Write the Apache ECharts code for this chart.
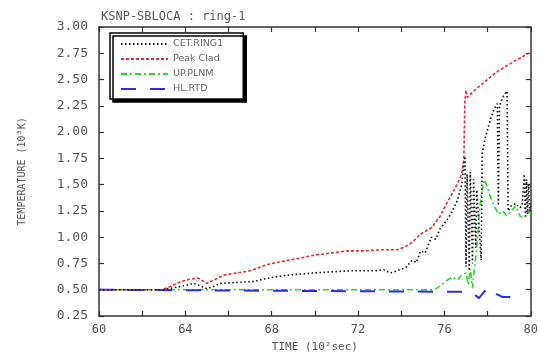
<!DOCTYPE html>
<html>
<head>
<meta charset="utf-8">
<script src="https://cdn.jsdelivr.net/npm/echarts@6/dist/echarts.min.js"></script>
<style>html,body{margin:0;padding:0;background:#fff;}#c{width:541px;height:358px;}</style>
</head>
<body>
<div id="c"></div>
<script>
// ---- data ----
const titleText = "KSNP-SBLOCA : ring-1";
const seriesNames = ["CET.RING1", "Peak Clad", "UP.PLNM", "HL.RTD"];
const xTickLabels = [60, 64, 68, 72, 76, 80];
const yTickLabels = ["0.25","0.50","0.75","1.00","1.25","1.50","1.75","2.00","2.25","2.50","2.75","3.00"];

const cetTime = [60,63.0,63.5,64.0,64.4,65.0,65.3,65.6,66.5,67.2,67.6,68.1,68.8,70.0,71.6,72.8,73.2,73.5,73.8,74.2,74.5,74.7,74.9,75.1,75.4,75.6,75.8,76.1,76.3,76.6,76.8,76.95,77.0,77.05,77.15,77.2,77.3,77.35,77.45,77.5,77.7,77.75,77.9,78.1,78.3,78.45,78.5,78.55,78.7,78.9,78.95,79.1,79.3,79.5,79.6,79.7,79.75,79.8,79.85,79.9,79.95,80.0];
const cetTemp = [0.50,0.50,0.52,0.54,0.56,0.51,0.53,0.56,0.57,0.58,0.60,0.62,0.64,0.66,0.68,0.68,0.69,0.66,0.68,0.71,0.78,0.76,0.87,0.85,1.00,0.98,1.08,1.16,1.22,1.35,1.50,1.77,0.72,1.60,0.68,1.62,0.75,1.55,0.90,1.45,0.78,1.80,1.95,2.10,2.22,2.27,1.30,2.25,2.33,2.39,1.25,1.30,1.32,1.28,1.30,1.60,1.20,1.55,1.22,1.50,1.25,1.30];

const cladTime = [60,62.9,63.3,63.7,64.2,64.6,65.0,65.4,65.8,66.4,67.0,67.8,68.5,69.3,70.0,70.8,71.5,72.3,73.0,73.8,74.2,74.5,74.9,75.4,75.8,76.1,76.4,76.6,76.8,76.9,76.95,77.0,77.05,77.3,77.7,78.4,79.2,80.0];
const cladTemp = [0.50,0.50,0.53,0.57,0.60,0.61,0.56,0.60,0.64,0.66,0.68,0.74,0.77,0.80,0.83,0.85,0.87,0.87,0.88,0.88,0.91,0.95,1.03,1.09,1.20,1.32,1.43,1.51,1.60,1.75,2.30,2.40,2.33,2.38,2.45,2.57,2.67,2.76];

const plnmTime = [60,75.5,75.7,76.0,76.2,76.4,76.6,76.8,77.0,77.1,77.2,77.3,77.4,77.5,77.6,77.7,77.85,77.95,78.1,78.3,78.5,78.7,78.9,79.1,79.3,79.5,79.7,79.9,80.0];
const plnmTemp = [0.50,0.50,0.52,0.57,0.60,0.62,0.59,0.64,0.66,0.55,0.70,0.52,0.72,0.90,1.20,1.40,1.55,1.50,1.40,1.30,1.22,1.25,1.20,1.25,1.30,1.20,1.18,1.25,1.22];

const rtdTime = [60,77.0,77.3,77.6,78.0,78.3,78.7,79.3];
const rtdTemp = [0.50,0.48,0.47,0.42,0.52,0.47,0.43,0.43];

function pairs(t, v){ return t.map((x,i)=>[x, v[i]]); }

const chart = echarts.init(document.getElementById('c'), null, {renderer:'canvas'});
const axisCol = '#333';
const txtCol = '#555';
const mono = '"DejaVu Sans Mono", "Liberation Mono", monospace';

const option = {
  backgroundColor: '#ffffff',
  animation: false,
  title: {
    text: titleText, left: 96, top: 6,
    textStyle: {fontFamily: mono, fontSize: 12, fontWeight: 'normal', color: txtCol}
  },
  legend: {
    data: seriesNames, orient: 'vertical', left: 110, top: 33,
    itemWidth: 47, itemHeight: 8, itemGap: 5,
    padding: [6, 20, 5, 10],
    backgroundColor: '#fff', borderColor: '#000', borderWidth: 1.5,
    shadowColor: '#000', shadowBlur: 0, shadowOffsetX: 3, shadowOffsetY: 3,
    itemStyle: {opacity: 0, borderWidth: 0},
    textStyle: {fontFamily: '"DejaVu Sans", sans-serif', fontSize: 9.5, color: '#666'}
  },
  grid: {left: 99, right: 4, top: 27, bottom: 41},
  xAxis: [{
    type: 'value', min: 60, max: 80, interval: 4,
    name: 'TIME (10²sec)', nameLocation: 'middle', nameGap: 26,
    nameTextStyle: {fontFamily: mono, fontSize: 11, color: txtCol},
    axisLine: {show: true, onZero: false, lineStyle: {color: axisCol, width: 1.5}},
    axisTick: {show: true, inside: true, length: 5, lineStyle: {color: axisCol, width: 1.2}},
    minorTick: {show: true, splitNumber: 2, length: 5, lineStyle: {color: axisCol, width: 1.2}},
    axisLabel: {fontFamily: mono, fontSize: 12, color: txtCol, margin: 8,
      formatter: v => xTickLabels.indexOf(v) >= 0 ? String(v) : ''},
    splitLine: {show: false}
  }, {
    type: 'value', min: 60, max: 80, interval: 4, position: 'top',
    axisLine: {show: true, onZero: false, lineStyle: {color: axisCol, width: 1.5}},
    axisTick: {show: true, inside: true, length: 5, lineStyle: {color: axisCol, width: 1.2}},
    minorTick: {show: true, splitNumber: 2, length: 5, lineStyle: {color: axisCol, width: 1.2}},
    axisLabel: {show: false}, splitLine: {show: false}
  }],
  yAxis: [{
    type: 'value', min: 0.25, max: 3.0, interval: 0.25,
    name: 'TEMPERATURE (10³K)', nameLocation: 'middle', nameGap: 72, nameRotate: 90,
    nameTextStyle: {fontFamily: mono, fontSize: 10, color: txtCol},
    axisLine: {show: true, onZero: false, lineStyle: {color: axisCol, width: 1.5}},
    axisTick: {show: true, inside: true, length: 5, lineStyle: {color: axisCol, width: 1.2}},
    axisLabel: {fontFamily: mono, fontSize: 13, color: txtCol, margin: 11,
      formatter: v => { const s = v.toFixed(2); return yTickLabels.indexOf(s) >= 0 ? s : ''; }},
    splitLine: {show: false}
  }, {
    type: 'value', min: 0.25, max: 3.0, interval: 0.25, position: 'right',
    axisLine: {show: true, onZero: false, lineStyle: {color: axisCol, width: 1.5}},
    axisTick: {show: true, inside: true, length: 5, lineStyle: {color: axisCol, width: 1.2}},
    axisLabel: {show: false}, splitLine: {show: false}
  }],
  series: [
    {name: seriesNames[3], type: 'line', data: pairs(rtdTime, rtdTemp), symbol: 'none', z: 2,
      lineStyle: {color: '#2b2bf0', width: 2, type: [15, 14]}, itemStyle: {color: '#2b2bf0'}},
    {name: seriesNames[2], type: 'line', data: pairs(plnmTime, plnmTemp), symbol: 'none', z: 1,
      lineStyle: {color: '#22dd22', width: 1.6, type: [6, 3, 2, 3]}, itemStyle: {color: '#22dd22'}},
    {name: seriesNames[1], type: 'line', data: pairs(cladTime, cladTemp), symbol: 'none', z: 3,
      lineStyle: {color: '#f02828', width: 1.6, type: [3, 2]}, itemStyle: {color: '#f02828'}},
    {name: seriesNames[0], type: 'line', data: pairs(cetTime, cetTemp), symbol: 'none', z: 4,
      lineStyle: {color: '#111', width: 1.6, type: [1.5, 2.5]}, itemStyle: {color: '#111'}}
  ]
};
chart.setOption(option);
</script>
</body>
</html>
